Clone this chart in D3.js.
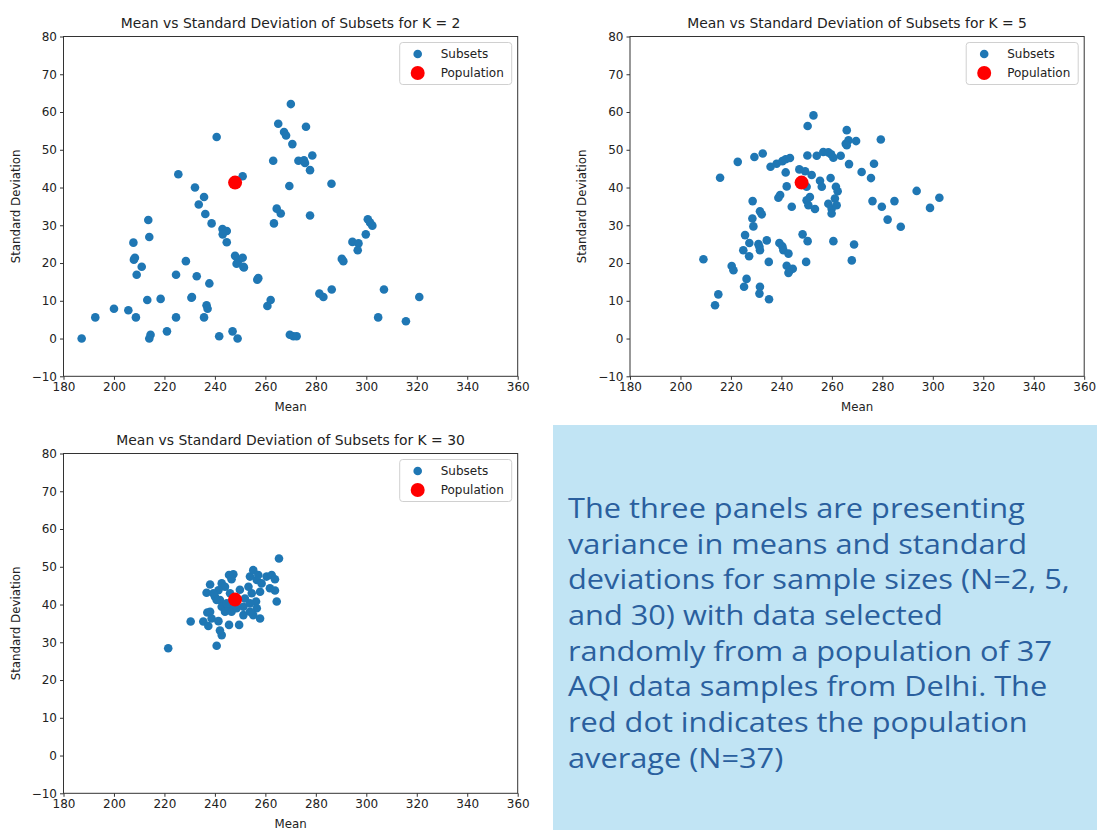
<!DOCTYPE html>
<html>
<head>
<meta charset="utf-8">
<script src="https://cdn.jsdelivr.net/npm/d3@7"></script>
<style>
  body { margin: 0; background: #fff; }
  svg { display: block; font-family: "DejaVu Sans", sans-serif; }
</style>
</head>
<body>
<div id="chart"></div>
<script>
// values (mean, standard deviation of each subset)
const k2Means = [187.2, 192.6, 200.0, 205.7, 208.7, 213.2, 218.5, 214.5, 214.0, 221.0, 224.6, 224.6, 228.5, 230.7, 230.9,
  232.8, 235.7, 236.7, 237.1, 237.8, 241.7, 247.0, 249.0, 256.8, 257.2, 260.8, 262.1, 269.7, 271.1, 272.4, 281.4,
  207.7, 207.9, 208.3, 211.0, 209.0, 213.6, 214.0, 225.5, 232.1, 235.7, 233.6, 236.2, 238.7, 240.7, 243.0, 244.7,
  243.1, 244.7, 248.0, 249.3, 251.0, 251.3, 248.6, 251.5, 251.0, 263.1, 265.1, 267.4, 268.2, 270.1, 270.7, 269.5,
  264.5, 266.1, 263.4, 273.1, 275.3, 275.7, 276.1, 278.6, 277.7, 277.7,
  286.2, 290.3, 290.9, 283.0, 286.3, 294.5, 296.9, 296.6, 299.8, 300.6, 301.5, 302.4, 307.0, 304.7, 315.7, 321.0];
const k2Sds = [0.0, 5.6, 7.9, 7.5, 5.6, 10.2, 10.5, 1.0, 0.0, 1.9, 5.6, 16.9, 20.5, 10.8, 11.0,
  16.5, 5.6, 8.8, 7.9, 14.6, 0.6, 1.9, 0.0, 15.6, 16.0, 8.6, 10.2, 1.0, 0.6, 0.6, 11.9,
  25.4, 20.9, 21.4, 19.0, 16.9, 31.4, 26.9, 43.5, 40.0, 37.5, 35.5, 33.0, 30.5, 53.4, 29.0, 28.5,
  27.6, 25.5, 21.9, 20.7, 21.4, 19.0, 19.8, 18.8, 43.0, 47.1, 56.9, 54.7, 53.8, 62.1, 51.5, 40.4,
  34.4, 33.1, 30.5, 47.1, 47.2, 46.5, 56.1, 48.5, 44.6, 32.6,
  41.0, 21.1, 20.5, 11.0, 13.0, 25.6, 25.2, 23.4, 27.6, 31.6, 30.7, 29.9, 13.0, 5.6, 4.6, 11.0];

const k5Means = [252.7, 250.4, 222.7, 229.3, 232.6, 215.7, 235.7, 238.1, 240.4, 241.7, 243.4, 241.7, 247.1, 249.4, 252.0,
  250.3, 254.0, 256.6, 258.6, 259.7, 260.6, 242.1, 250.0, 255.3, 256.0, 259.5, 261.6, 262.3, 239.5, 238.8, 244.1,
  251.3, 250.0, 250.7, 253.3, 258.6, 259.9, 259.9, 261.2, 261.9, 228.6, 231.5, 232.2, 228.5, 228.9, 225.6, 227.3,
  234.2, 224.9, 227.2, 230.9, 231.5, 231.3, 239.2, 240.4, 240.8, 242.8, 248.4, 250.4, 260.6, 209.1, 220.3, 221.0,
  235.0, 242.1, 243.4, 244.5, 242.8, 249.8, 226.2, 225.2, 231.5, 231.3, 235.1, 215.0, 213.7,
  265.9, 265.5, 266.6, 265.9, 269.6, 279.4, 263.5, 266.8, 271.8, 276.7, 275.5, 276.1, 279.8, 284.8, 282.1, 287.3,
  293.6, 302.6, 298.9, 268.8, 267.9];
const k5Sds = [59.1, 56.3, 46.8, 48.1, 49.0, 42.6, 45.5, 46.3, 47.0, 47.5, 47.8, 44.0, 44.8, 44.3, 43.3,
  48.5, 48.4, 49.4, 49.3, 48.8, 47.9, 40.3, 40.2, 41.8, 40.2, 42.5, 40.2, 39.0, 38.0, 37.3, 34.9,
  37.5, 36.6, 35.3, 34.3, 35.7, 34.4, 33.1, 37.1, 35.3, 36.4, 33.7, 32.9, 31.8, 29.7, 27.4, 25.3,
  26.0, 23.4, 21.8, 25.0, 23.4, 24.3, 25.3, 24.4, 23.4, 22.5, 27.6, 25.8, 25.8, 21.0, 19.2, 18.1,
  20.3, 19.3, 18.1, 18.5, 17.4, 20.3, 15.8, 13.7, 13.7, 11.9, 10.4, 11.7, 8.8,
  55.2, 51.6, 52.5, 51.2, 52.3, 52.7, 48.4, 46.2, 44.1, 46.3, 42.5, 36.4, 34.9, 36.4, 31.5, 29.6,
  39.1, 37.3, 34.6, 24.9, 20.7];

const k30Means = [221.5, 265.4, 230.4, 240.7, 242.7, 242.0, 245.6, 249.6, 235.4, 237.0, 238.1, 238.7, 237.4, 241.4,
  236.7, 238.1, 242.7, 245.6, 247.3, 246.6, 240.0, 242.0, 242.7, 244.0, 245.3, 246.6, 248.6, 251.3, 251.9, 249.9,
  246.0, 244.0, 241.4, 253.9, 255.2, 256.6, 258.5, 260.5, 262.5, 263.8, 261.8, 263.8, 257.9, 254.6, 256.3, 256.6,
  257.9, 255.2, 253.9, 253.3, 264.5, 257.2, 253.9, 251.3, 244.7, 248.0, 240.7, 239.4];
const k30Sds = [28.4, 52.2, 35.5, 29.1, 31.9, 33.1, 34.6, 34.6, 35.5, 37.9, 38.1, 36.3, 34.3, 35.6,
  43.1, 45.3, 45.6, 47.8, 48.0, 46.7, 42.1, 41.2, 39.4, 38.1, 39.4, 38.1, 39.0, 39.4, 41.6, 43.9,
  43.0, 44.7, 43.8, 47.4, 49.1, 46.5, 45.6, 47.4, 47.8, 46.7, 44.3, 43.7, 43.4, 43.0, 40.8, 39.0,
  36.3, 37.2, 40.3, 44.7, 40.8, 47.8, 38.1, 37.2, 40.3, 39.9, 41.2, 43.0];

const popMean = 248.0;
const popSd = 41.3;

const xTicks = [180, 200, 220, 240, 260, 280, 300, 320, 340, 360];
const yTicks = [-10, 0, 10, 20, 30, 40, 50, 60, 70, 80];
const legendLabels = ["Subsets", "Population"];

const noteLines = [
  "The three panels are presenting",
  "variance in means and standard",
  "deviations for sample sizes (N=2, 5,",
  "and 30) with data selected",
  "randomly from a population of 37",
  "AQI data samples from Delhi. The",
  "red dot indicates the population",
  "average (N=37)"
];

const panels = [
  {k: 2, means: k2Means, sds: k2Sds, left: 63.5, top: 36.5},
  {k: 5, means: k5Means, sds: k5Sds, left: 630, top: 36.5},
  {k: 30, means: k30Means, sds: k30Sds, left: 63.5, top: 453.5}
];

const W = 1097, H = 830;
const pw = 454.2, ph = 339.8;
const blue = "#1f77b4", axisCol = "#333";

const svg = d3.select("#chart").append("svg")
  .attr("width", W).attr("height", H);

const x = d3.scaleLinear().domain([180, 360]).range([0, pw]);
const y = d3.scaleLinear().domain([-10, 80]).range([ph, 0]);

panels.forEach(p => {
  let g = svg.append("g").attr("transform", "translate(" + p.left + "," + p.top + ")");

  g.selectAll("circle.sub")
    .data(d3.zip(p.means, p.sds))
    .join("circle")
    .attr("class", "sub")
    .attr("cx", d => x(d[0]))
    .attr("cy", d => y(d[1]))
    .attr("r", 4.3)
    .attr("fill", blue);

  g.append("circle")
    .attr("cx", x(popMean))
    .attr("cy", y(popSd))
    .attr("r", 7)
    .attr("fill", "red");

  let xa = g.append("g")
    .attr("transform", "translate(0," + ph + ")")
    .call(d3.axisBottom(x).tickValues(xTicks).tickSize(3.5).tickPadding(3));
  let ya = g.append("g")
    .call(d3.axisLeft(y).tickValues(yTicks).tickSize(3.5).tickPadding(3));
  [xa, ya].forEach(a => {
    a.select(".domain").remove();
    a.selectAll("line").attr("stroke", axisCol);
    a.selectAll("text").attr("fill", "#222").style("font-size", "12px")
      .style("font-family", "DejaVu Sans, sans-serif");
  });

  // frame (all four spines)
  g.append("rect")
    .attr("width", pw).attr("height", ph)
    .attr("fill", "none").attr("stroke", axisCol).attr("stroke-width", 1);

  g.append("text")
    .attr("x", pw / 2).attr("y", -9)
    .attr("text-anchor", "middle")
    .style("font-size", "13.9px").attr("fill", "#222")
    .text("Mean vs Standard Deviation of Subsets for K = " + p.k);

  g.append("text")
    .attr("x", pw / 2).attr("y", ph + 35)
    .attr("text-anchor", "middle")
    .style("font-size", "11.8px").attr("fill", "#222")
    .text("Mean");

  g.append("text")
    .attr("transform", "translate(-44," + (ph / 2) + ") rotate(-90)")
    .attr("text-anchor", "middle")
    .style("font-size", "11.8px").attr("fill", "#222")
    .text("Standard Deviation");

  // legend
  let lg = g.append("g").attr("transform", "translate(" + (pw - 118) + ",6)");
  lg.append("rect")
    .attr("width", 112).attr("height", 42).attr("rx", 3)
    .attr("fill", "white").attr("fill-opacity", 0.8)
    .attr("stroke", "#d0d0d0");
  lg.append("circle").attr("cx", 18).attr("cy", 11.5).attr("r", 4.3).attr("fill", blue);
  lg.append("circle").attr("cx", 18).attr("cy", 30.5).attr("r", 7).attr("fill", "red");
  lg.selectAll("text.lab")
    .data(legendLabels)
    .join("text")
    .attr("class", "lab")
    .attr("x", 41)
    .attr("y", (d, i) => 15.5 + i * 19)
    .style("font-size", "12px").attr("fill", "#222")
    .text(d => d);
});

// note box
svg.append("rect")
  .attr("x", 553).attr("y", 425)
  .attr("width", W - 553).attr("height", H - 425)
  .attr("fill", "#c1e4f4");

let note = svg.append("g");
let nt = note.selectAll("text")
  .data(noteLines)
  .join("text")
  .attr("x", 0)
  .attr("y", (d, i) => i * 35.7)
  .style("font-family", "'Open Sans', sans-serif")
  .style("font-size", "28px")
  .attr("fill", "#2a5f9e")
  .text(d => d);

// fit the widest line to the width it takes in the picture
let wide = nt.nodes()[2].getComputedTextLength();
let sx = 502 / wide;
note.attr("transform", "translate(568,518) scale(" + sx + ",1)");
</script>
</body>
</html>
